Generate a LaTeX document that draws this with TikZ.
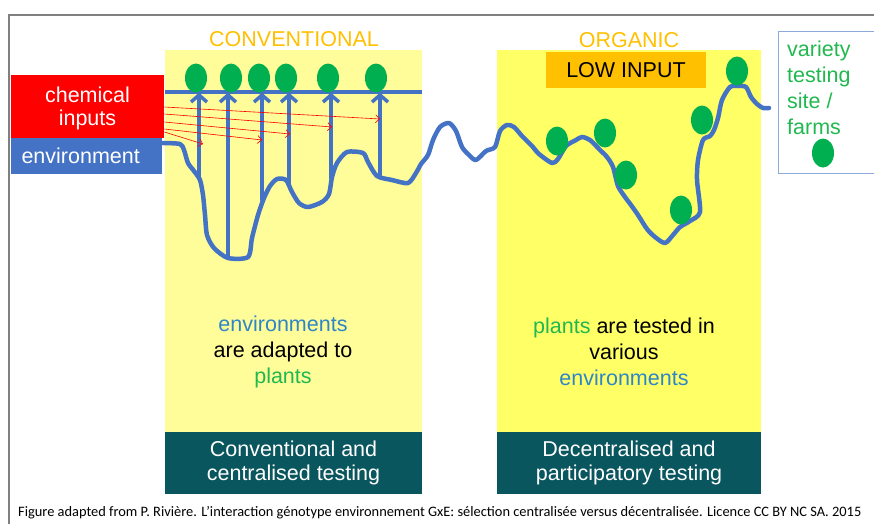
\documentclass[tikz,border=0pt]{standalone}
\usepackage{fontspec}
\setmainfont{Liberation Sans}
\newfontfamily\footfont{Carlito}
\usetikzlibrary{shapes.geometric,arrows.meta}
\definecolor{convyellow}{RGB}{255,253,153}
\definecolor{orgyellow}{RGB}{255,255,102}
\definecolor{titleorange}{RGB}{255,192,0}
\definecolor{envblue}{RGB}{68,114,196}
\definecolor{plantgreen}{RGB}{0,176,80}
\definecolor{textblue}{RGB}{46,134,200}
\definecolor{textgreen}{RGB}{34,184,80}
\definecolor{tealbox}{RGB}{10,86,94}
\definecolor{framegray}{RGB}{128,128,128}
\definecolor{legendblue}{RGB}{142,169,219}
\begin{document}
\begin{tikzpicture}[x=1pt,y=-1pt,
    bigtext/.style={font=\fontsize{21.5}{26}\selectfont,align=center},
    panel/.style={anchor=north west,inner sep=0pt,outer sep=0pt,minimum height=382pt},
    footbox/.style={anchor=north west,inner sep=0pt,outer sep=0pt,minimum height=62pt,fill=tealbox,text=white,
        font=\fontsize{21.5}{24.5}\selectfont,align=center},
    plant/.style={ellipse,fill=plantgreen,minimum width=22pt,minimum height=29pt,inner sep=0pt},
    up arrow/.style={envblue,line width=3.5pt,line cap=round,-{Straight Barb[length=7pt,width=16pt]}},
    input arrow/.style={red,line width=0.6pt,-{Straight Barb[length=4pt,width=8pt]}}]
    \useasboundingbox (0,0) rectangle (874,523);
    \clip (0,0) rectangle (874,523);

    \draw[framegray,line width=2pt] (9,530) -- (9,15) -- (880,15);

    \node[panel,fill=convyellow,minimum width=257pt] (convpanel) at (165,50) {};
    \node[panel,fill=orgyellow,minimum width=264pt] (orgpanel) at (497,50) {};

    \node[bigtext,text=titleorange] (convtitle) at (294,39.5) {CONVENTIONAL};
    \node[bigtext,text=titleorange] (orgtitle) at (629,40) {ORGANIC};
    \node[bigtext,fill=titleorange,minimum width=160pt,minimum height=36pt,inner sep=0pt] (lowinput) at (626,70) {LOW INPUT};

    \node[fill=red,minimum width=153pt,minimum height=63pt,inner sep=0pt,anchor=north west] (chem) at (11,75) {};
    \node[bigtext,text=white,font=\fontsize{21.5}{23.5}\selectfont] (chemtext) at (87.5,108.5) {chemical\\inputs};
    \node[bigtext,fill=envblue,text=white,minimum width=151pt,minimum height=36pt,inner sep=0pt,
        anchor=north west] (envbox) at (11,138) {environment\hspace*{12pt}};

    \draw[envblue,line width=3.5pt] (convpanel.west |- 0,92) -- (convpanel.east |- 0,92);

    \draw[envblue,line width=4.5pt,line join=round,line cap=round] plot[smooth,tension=0.45] coordinates {
        (163,143) (180,144) (184,150) (188,163) (194,171) (200,180) (203,195) (205,215) (207,235)
        (214,248) (228,258) (248,257) (252,238) (258,215) (264,198) (270,186) (277,179) (286,180)
        (292,192) (299,203) (308,207) (322,202) (329,194) (332,177) (337,163) (347,152) (363,153)
        (368,162) (377,176) (392,180) (408,183) (416,173) (421,164) (428,155) (433,140) (440,127)
        (449,123) (456,131) (462,147) (469,155) (476,160) (486,151) (495,147) (500,131) (507,125)
        (514,127) (522,136) (532,146) (539,154) (552,163) (558,159) (566,146) (576,140) (582,137)
        (590,140) (600,150) (607,157) (613,167) (618,186) (625,197) (631,205) (638,215) (647,229)
        (655,237) (665,243) (673,235) (680,227) (690,221) (700,212) (697,180) (698,160) (703,140)
        (710,136) (714,130) (718,118) (722,100) (730,87) (738,86) (746,87) (751,97) (757,104)
        (763,108) (769,108)};

    \coordinate (base1) at (199,178);
    \coordinate (base2) at (228,258);
    \coordinate (base3) at (262,200);
    \coordinate (base4) at (289,183);
    \coordinate (base5) at (331,178);
    \coordinate (base6) at (380,175);

    \node[plant] (plant1) at (196,78) {};
    \node[plant] (plant2) at (231,78) {};
    \node[plant] (plant3) at (259,78) {};
    \node[plant] (plant4) at (286,78) {};
    \node[plant] (plant5) at (328,78) {};
    \node[plant] (plant6) at (376,78) {};

    \draw[up arrow] (base1) -- (base1 |- plant1.south);
    \draw[up arrow] (base2) -- (base2 |- plant2.south);
    \draw[up arrow] (base3) -- (base3 |- plant3.south);
    \draw[up arrow] (base4) -- (base4 |- plant4.south);
    \draw[up arrow] (base5) -- (base5 |- plant5.south);
    \draw[up arrow] (base6) -- (base6 |- plant6.south);

    \coordinate (hit1) at (380,119);
    \coordinate (hit2) at (332,127);
    \coordinate (hit3) at (290,134);
    \coordinate (hit4) at (262,140);
    \coordinate (hit5) at (203,144);
    \draw[input arrow] (chem.east |- 0,107) -- (hit1);
    \draw[input arrow] (chem.east |- 0,114) -- (hit2);
    \draw[input arrow] (chem.east |- 0,122) -- (hit3);
    \draw[input arrow] (chem.east |- 0,129) -- (hit4);
    \draw[input arrow] (chem.east |- 0,132) -- (hit5);

    \node[plant] (site1) at (557,141) {};
    \node[plant] (site2) at (605,133) {};
    \node[plant] (site3) at (626,175) {};
    \node[plant] (site4) at (681,210) {};
    \node[plant] (site5) at (702,120) {};
    \node[plant] (site6) at (737,71) {};

    \node[draw=legendblue,line width=1.2pt,anchor=north west,minimum width=110pt,minimum height=142pt,
        inner sep=0pt] (legendbox) at (778,31) {};
    \node[bigtext,align=left,text=textgreen,anchor=west,inner sep=0pt] (legendtext) at (787,88)
        {variety\\testing\\site /\\farms};
    \node[plant] (legendplant) at (823,153) {};

    \node[bigtext] (convnote) at (283,352)
        {\textcolor{textblue}{environments}\\are adapted to\\\textcolor{textgreen}{plants}};
    \node[bigtext] (orgnote) at (624,352)
        {\textcolor{textgreen}{plants} are tested in\\various\\\textcolor{textblue}{environments}};

    \node[footbox,minimum width=257pt] (convtest) at (165,432) {Conventional and\\centralised testing};
    \node[footbox,minimum width=264pt] (orgtest) at (497,432) {Decentralised and\\participatory testing};

    \node[anchor=west,inner sep=0pt,font=\footfont\fontsize{14.4}{16}\selectfont] (credit) at (18,513)
        {Figure adapted from P. Rivière. L’interaction génotype environnement GxE: sélection centralisée versus décentralisée. Licence CC BY NC SA. 2015};
\end{tikzpicture}
\end{document}
